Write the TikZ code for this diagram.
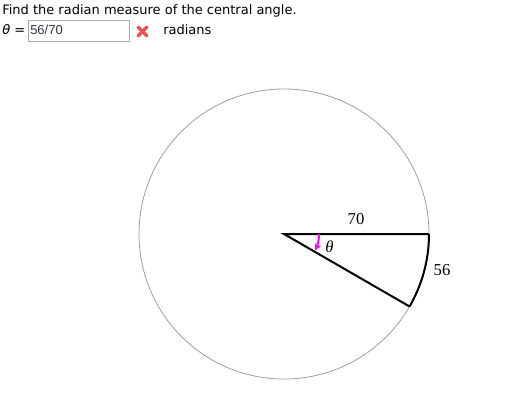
\documentclass[tikz,border=0pt]{standalone}
\usepackage{fontspec}
\setmainfont{DejaVu Sans}
\newfontfamily\numfont{Liberation Serif}
\newfontfamily\boxfont{Liberation Sans}
\usetikzlibrary{calc,arrows.meta}
\definecolor{circgray}{HTML}{A0A0A0}
\definecolor{boxgray}{HTML}{A9A9A9}
\definecolor{xred}{HTML}{F05050}
\definecolor{pink}{HTML}{FF00FF}
\definecolor{boxtext}{HTML}{333344}
\tikzset{
  uitext/.style={inner sep=0pt, anchor=base west, font=\fontsize{9.75pt}{12pt}\selectfont},
  figlabel/.style={inner sep=0pt, font=\numfont\fontsize{12.5pt}{14pt}\selectfont},
  radius line/.style={line width=1.5pt},
}
\begin{document}
\begin{tikzpicture}[x=0.75pt,y=-0.75pt]
\useasboundingbox[fill=white] (0,0) rectangle (527,410);
% header
\node[uitext] (title) at (2,15) {Find the radian measure of the central angle.};
\node[uitext] (theta) at (2,34.5) {\textit{θ} =};
\node[draw=boxgray, line width=0.75pt, minimum width=101*0.75pt, minimum height=21*0.75pt, anchor=north west, inner sep=0pt] (box) at (28,20) {};
\node[uitext, font=\boxfont\fontsize{9.75pt}{12pt}\selectfont, text=boxtext] (ans) at (30,34.5) {56/70};
\coordinate (xc) at (142.5,31.5);
\draw[xred, line width=2.6pt, line cap=round] ($(xc)+(-4.3,-4.3)$) -- ($(xc)+(4.3,4.3)$);
\draw[xred, line width=2.6pt, line cap=round] ($(xc)+(-4.3,4.3)$) -- ($(xc)+(4.3,-4.3)$);
\node[uitext] (rad) at (163,34.5) {radians};
% figure
\coordinate (O) at (284,234);
\draw[circgray, line width=0.6pt] (O) circle[radius=145];
\coordinate (A) at ($(O)+(0:145)$);
\coordinate (B) at ($(O)+(30:145)$);
\draw[radius line] (A) -- (O) -- (B);
\draw[radius line] (A) arc[start angle=0, end angle=30, radius=145];
\draw[pink, line width=1.5pt, -{Stealth[length=6pt,width=5pt]}] ($(O)+(0:35)$) arc[start angle=0, end angle=29, radius=35];
\node[figlabel] (l70) at (356,219) {70};
\node[figlabel] (l56) at (442,270) {56};
\node[figlabel] (lth) at (329.5,246.5) {\textit{θ}};
\end{tikzpicture}
\end{document}
